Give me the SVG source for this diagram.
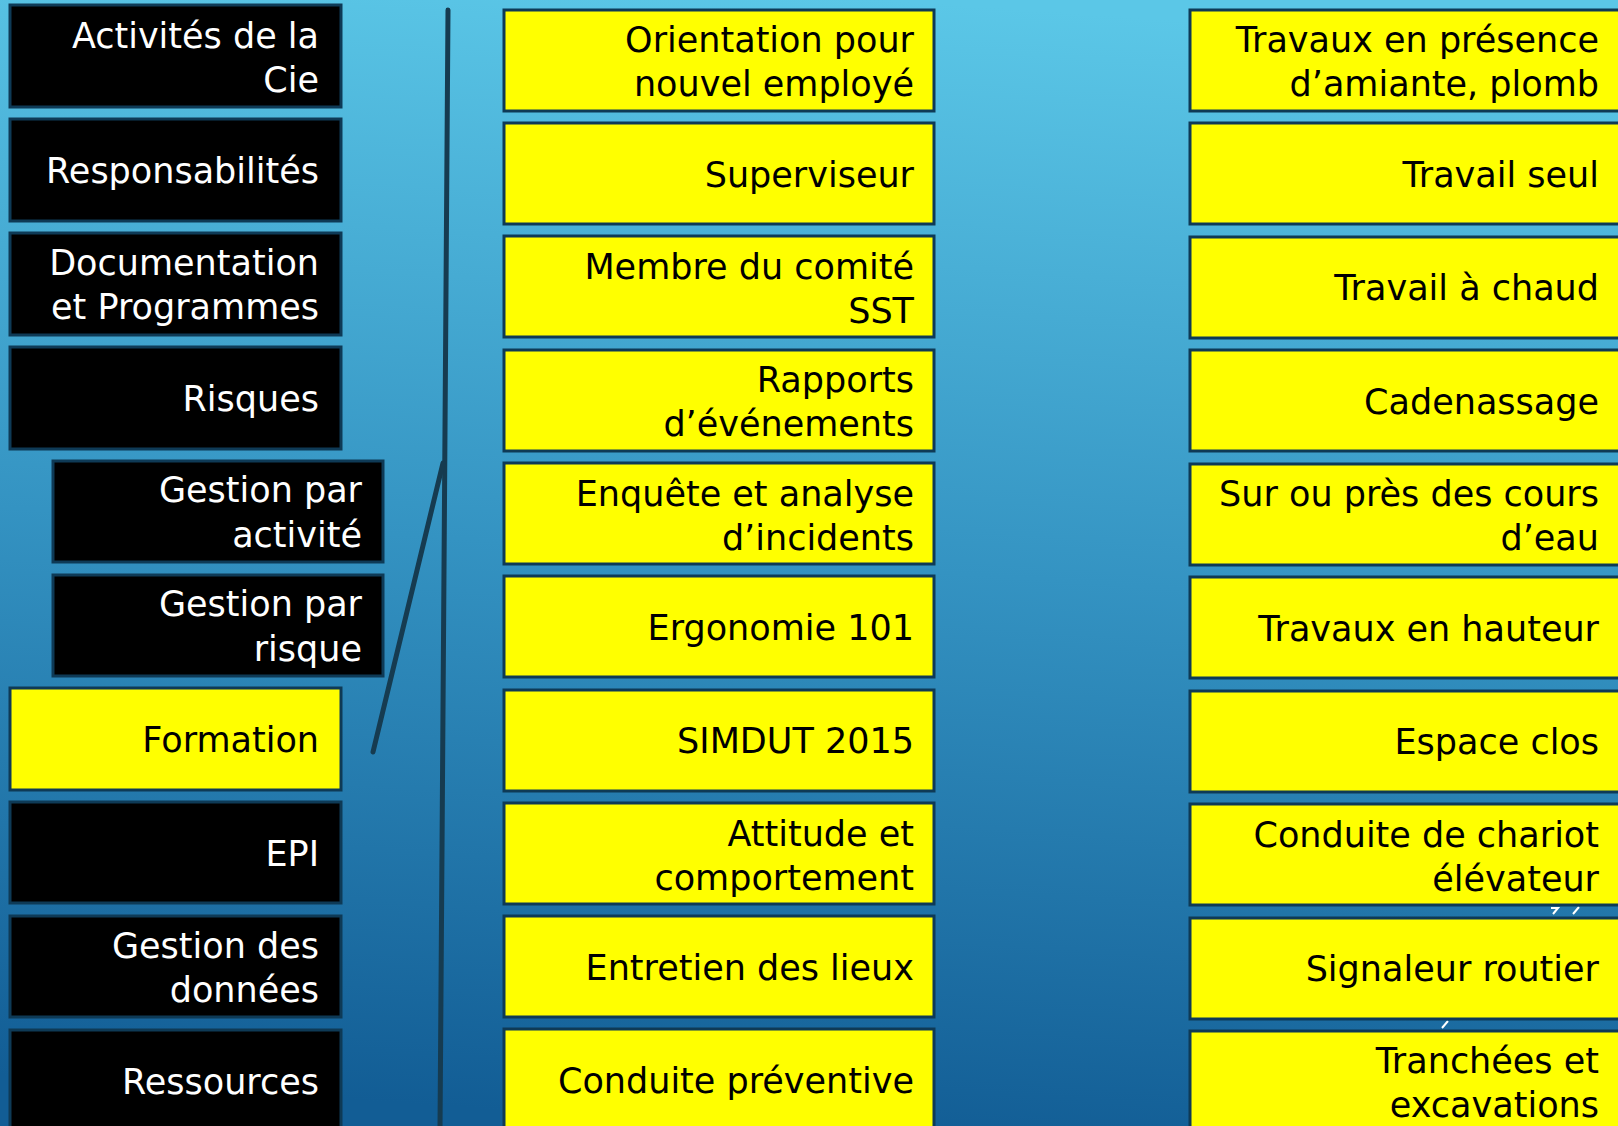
<svg xmlns="http://www.w3.org/2000/svg" width="1618" height="1126" viewBox="0 0 1618 1126">
<defs>
<linearGradient id="bg" x1="0.55" y1="0" x2="0.45" y2="1">
<stop offset="0" stop-color="#5bc7e7"/>
<stop offset="0.5" stop-color="#3493c2"/>
<stop offset="1" stop-color="#125d95"/>
</linearGradient>
</defs>
<style>
.bk{fill:#000;stroke:#0e3a56;stroke-width:3}
.yw{fill:#ffff00;stroke:#0e3a56;stroke-width:3}
text{font-family:"Century Gothic","DejaVu Sans",sans-serif;font-size:35px;text-anchor:end}
.wt{fill:#fff}
.kt{fill:#000}
.ln{stroke:#163b50;stroke-width:5;stroke-linecap:round;fill:none}
.mk{stroke:#fff;stroke-width:2;fill:none}
</style>
<rect width="1618" height="1126" fill="url(#bg)"/>
<g id="connectors">
<line class="ln" x1="448" y1="10" x2="440" y2="1130"/>
<line class="ln" x1="443" y1="463" x2="373" y2="752"/>
<path class="mk" d="M1551 908 H1558 L1553 914 M1579 907 L1573 914 M1448 1021 L1442 1028"/>
</g>
<g id="left">
<g id="l0"><rect class="bk" x="10" y="5" width="331" height="102"/><text class="wt" x="319" y="48">Activités de la</text><text class="wt" x="319" y="92">Cie</text></g>
<g id="l1"><rect class="bk" x="10" y="119" width="331" height="102"/><text class="wt" x="319" y="183">Responsabilités</text></g>
<g id="l2"><rect class="bk" x="10" y="233" width="331" height="102"/><text class="wt" x="319" y="275">Documentation</text><text class="wt" x="319" y="319">et Programmes</text></g>
<g id="l3"><rect class="bk" x="10" y="347" width="331" height="102"/><text class="wt" x="319" y="411">Risques</text></g>
<g id="l4"><rect class="bk" x="53" y="461" width="330" height="101"/><text class="wt" x="362" y="502">Gestion par</text><text class="wt" x="362" y="547">activité</text></g>
<g id="l5"><rect class="bk" x="53" y="575" width="330" height="101"/><text class="wt" x="362" y="616">Gestion par</text><text class="wt" x="362" y="661">risque</text></g>
<g id="l6"><rect class="yw" x="10" y="688" width="331" height="102"/><text class="kt" x="319" y="752">Formation</text></g>
<g id="l7"><rect class="bk" x="10" y="802" width="331" height="101"/><text class="wt" x="319" y="866">EPI</text></g>
<g id="l8"><rect class="bk" x="10" y="916" width="331" height="101"/><text class="wt" x="319" y="958">Gestion des</text><text class="wt" x="319" y="1002">données</text></g>
<g id="l9"><rect class="bk" x="10" y="1030" width="331" height="102"/><text class="wt" x="319" y="1094">Ressources</text></g>
</g>
<g id="middle">
<g id="m0"><rect class="yw" x="504" y="10" width="430" height="101"/><text class="kt" x="914" y="52">Orientation pour</text><text class="kt" x="914" y="96">nouvel employé</text></g>
<g id="m1"><rect class="yw" x="504" y="123" width="430" height="101"/><text class="kt" x="914" y="187">Superviseur</text></g>
<g id="m2"><rect class="yw" x="504" y="236" width="430" height="101"/><text class="kt" x="914" y="279">Membre du comité</text><text class="kt" x="914" y="323">SST</text></g>
<g id="m3"><rect class="yw" x="504" y="350" width="430" height="101"/><text class="kt" x="914" y="392">Rapports</text><text class="kt" x="914" y="436">d’événements</text></g>
<g id="m4"><rect class="yw" x="504" y="463" width="430" height="101"/><text class="kt" x="914" y="506">Enquête et analyse</text><text class="kt" x="914" y="550">d’incidents</text></g>
<g id="m5"><rect class="yw" x="504" y="576" width="430" height="101"/><text class="kt" x="914" y="640">Ergonomie 101</text></g>
<g id="m6"><rect class="yw" x="504" y="690" width="430" height="101"/><text class="kt" x="914" y="753">SIMDUT 2015</text></g>
<g id="m7"><rect class="yw" x="504" y="803" width="430" height="101"/><text class="kt" x="914" y="846">Attitude et</text><text class="kt" x="914" y="890">comportement</text></g>
<g id="m8"><rect class="yw" x="504" y="916" width="430" height="101"/><text class="kt" x="914" y="980">Entretien des lieux</text></g>
<g id="m9"><rect class="yw" x="504" y="1029" width="430" height="102"/><text class="kt" x="914" y="1093">Conduite préventive</text></g>
</g>
<g id="right">
<g id="r0"><rect class="yw" x="1190" y="10" width="440" height="101"/><text class="kt" x="1599" y="52">Travaux en présence</text><text class="kt" x="1599" y="96">d’amiante, plomb</text></g>
<g id="r1"><rect class="yw" x="1190" y="123" width="440" height="101"/><text class="kt" x="1599" y="187">Travail seul</text></g>
<g id="r2"><rect class="yw" x="1190" y="237" width="440" height="101"/><text class="kt" x="1599" y="300">Travail à chaud</text></g>
<g id="r3"><rect class="yw" x="1190" y="350" width="440" height="101"/><text class="kt" x="1599" y="414">Cadenassage</text></g>
<g id="r4"><rect class="yw" x="1190" y="464" width="440" height="101"/><text class="kt" x="1599" y="506">Sur ou près des cours</text><text class="kt" x="1599" y="550">d’eau</text></g>
<g id="r5"><rect class="yw" x="1190" y="577" width="440" height="101"/><text class="kt" x="1599" y="641">Travaux en hauteur</text></g>
<g id="r6"><rect class="yw" x="1190" y="691" width="440" height="101"/><text class="kt" x="1599" y="754">Espace clos</text></g>
<g id="r7"><rect class="yw" x="1190" y="804" width="440" height="101"/><text class="kt" x="1599" y="847">Conduite de chariot</text><text class="kt" x="1599" y="891">élévateur</text></g>
<g id="r8"><rect class="yw" x="1190" y="918" width="440" height="101"/><text class="kt" x="1599" y="981">Signaleur routier</text></g>
<g id="r9"><rect class="yw" x="1190" y="1031" width="440" height="102"/><text class="kt" x="1599" y="1073">Tranchées et</text><text class="kt" x="1599" y="1117">excavations</text></g>
</g>
</svg>
